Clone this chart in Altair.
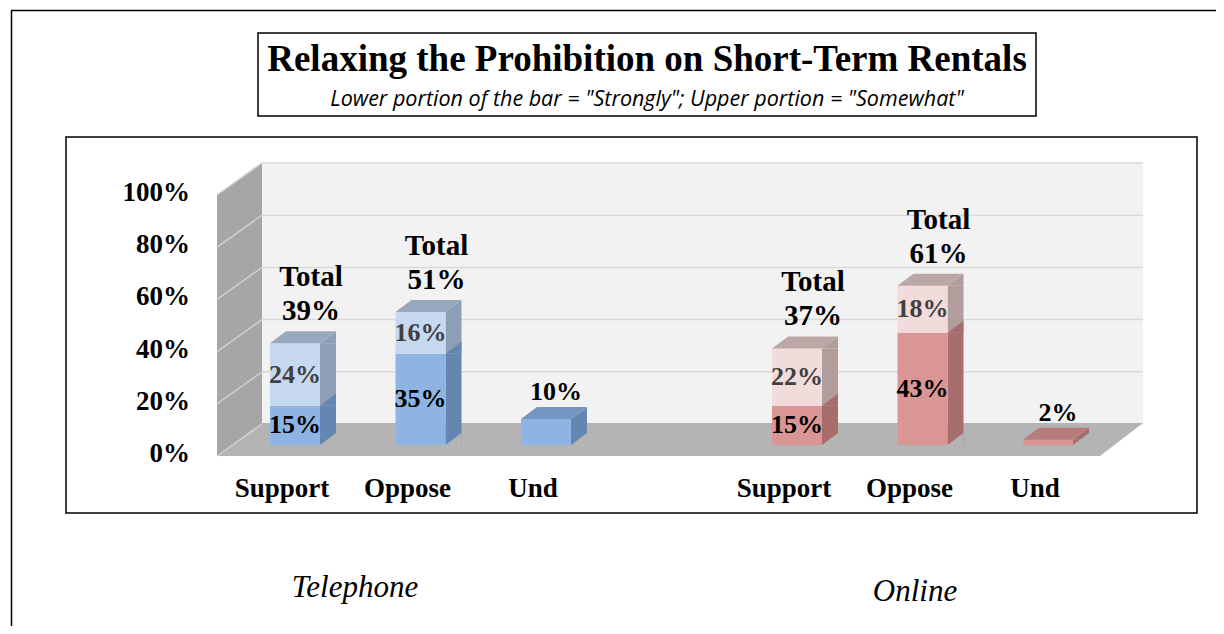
import altair as alt
import pandas as pd

# ---------------- data ----------------
modes = ["Telephone", "Telephone", "Telephone", "Online", "Online", "Online"]
answers = ["Support", "Oppose", "Und", "Support", "Oppose", "Und"]
strongly = [15, 35, 10, 15, 43, 2]
somewhat = [24, 16, 0, 22, 18, 0]
totals = [39, 51, 10, 37, 61, 2]
y_ticks = [0, 20, 40, 60, 80, 100]
y_tick_labels = ["0%", "20%", "40%", "60%", "80%", "100%"]
title_text = "Relaxing the Prohibition on Short-Term Rentals"
subtitle_text = 'Lower portion of the bar = "Strongly"; Upper portion = "Somewhat"'
group_labels = ["Telephone", "Online"]

# ---------------- styles ----------------
PALETTE = {
    ("Telephone", "Strongly"): dict(front="#8DB4E2", side="#6487B2", top="#7596C0", text="#000000"),
    ("Telephone", "Somewhat"): dict(front="#C6D9F1", side="#8D9FB7", top="#97A8BF", text="#404040"),
    ("Online", "Strongly"): dict(front="#D99694", side="#A66D6C", top="#B87C7B", text="#000000"),
    ("Online", "Somewhat"): dict(front="#F2DCDB", side="#B29D9D", top="#BCA7A7", text="#404040"),
}
FLOOR = "#B4B4B4"
WALL = "#A6A6A6"
BACK = "#F2F2F2"
GRID = "#D9D9D9"
SERIF = "Liberation Serif"

slots = ["Telephone|Support", "Telephone|Oppose", "Telephone|Und", "gap",
         "Online|Support", "Online|Oppose", "Online|Und"]

# ---------------- tables ----------------
seg_rows = []
bar_rows = []
for m, a, s, w, tot in zip(modes, answers, strongly, somewhat, totals):
    cat = f"{m}|{a}"
    pieces = [("Strongly", 0, s)]
    if w > 0:
        pieces.append(("Somewhat", s, s + w))
    for k, (lvl, b, t) in enumerate(pieces):
        p = PALETTE[(m, lvl)]
        seg_rows.append(dict(cat=cat, mode=m, answer=a, level=lvl, b=b, t=t, mid=(b + t) / 2,
                             front=p["front"], side=p["side"], top=p["top"], tcol=p["text"],
                             label=f"{t - b}%", is_top=(k == len(pieces) - 1),
                             inside=(a != "Und")))
    bar_rows.append(dict(cat=cat, mode=m, answer=a, total=tot,
                         tlabel=(f"Total\n{tot}%" if a != "Und" else ""),
                         ulabel=(f"{tot}%" if a == "Und" else "")))
seg = pd.DataFrame(seg_rows)
bars = pd.DataFrame(bar_rows)
ticks = pd.DataFrame({"v": y_ticks, "lab": y_tick_labels})

X = alt.X("cat:N", scale=alt.Scale(domain=slots, range=[166.25, 1044.75],
                                   paddingInner=0, paddingOuter=0), axis=None)
YS = alt.Scale(domain=[0, 100], range=[308, 47], nice=False, zero=False)


def Y(f):
    return alt.Y(f, scale=YS, axis=None)


DX, DY, W = 16, 12, 50
tri = f"M{W/2},0L{W/2+DX},{-DY}L{W/2+DX},0Z"
topface = f"M{-W/2},0L{W/2},0L{W/2+DX},{-DY}L{-W/2+DX},{-DY}Z"
wall_path = "M0,0L0,-261L45,-293L45,-33Z"
floor_path = "M0,0L883,0L926,-33L45,-33Z"

one = pd.DataFrame({"k": [0]})

# ---------------- decoration ----------------
back_wall = alt.Chart(one).mark_rect(color=BACK, yOffset=-21, y2Offset=-21).encode(
    x=alt.value(196), x2=alt.value(1077),
    y=alt.Y(datum=100, scale=YS, axis=None), y2=alt.datum(0))
grid = alt.Chart(ticks).mark_rule(color=GRID, strokeWidth=1.5, yOffset=-21).encode(
    x=alt.value(196), x2=alt.value(1077), y=Y("v:Q"))
floor = alt.Chart(one).mark_point(shape=floor_path, size=4, filled=True, opacity=1,
                                  strokeWidth=0, color=FLOOR, yOffset=11).encode(
    x=alt.value(151), y=alt.Y(datum=0, scale=YS, axis=None))
wall = alt.Chart(one).mark_point(shape=wall_path, size=4, filled=True, opacity=1,
                                 strokeWidth=0, color=WALL, yOffset=11).encode(
    x=alt.value(151), y=alt.Y(datum=0, scale=YS, axis=None))
wall_lines = alt.Chart(ticks).mark_rule(color="#D0D0D0", strokeWidth=1.5,
                                        yOffset=11, y2Offset=-21).encode(
    x=alt.value(151), x2=alt.value(196), y=Y("v:Q"), y2="v:Q")

ylabels = alt.Chart(ticks).mark_text(align="right", baseline="middle", dy=9,
                                     font=SERIF, fontSize=27, fontWeight="bold",
                                     color="#000000").encode(
    x=alt.value(124), y=Y("v:Q"), text="lab:N")

# ---------------- bars ----------------
side = alt.Chart(seg).mark_bar(size=DX, xOffset=W / 2 + DX / 2).encode(
    x=X, y=Y("t:Q"), y2="b:Q", color=alt.Color("side:N", scale=None))
front = alt.Chart(seg).mark_bar(size=W).encode(
    x=X, y=Y("t:Q"), y2="b:Q", color=alt.Color("front:N", scale=None))
tops_tri = alt.Chart(seg).mark_point(shape=tri, size=4, filled=True, opacity=1,
                                     strokeWidth=0).encode(
    x=X, y=Y("t:Q"), color=alt.Color("side:N", scale=None))
tops = alt.Chart(seg).transform_filter("datum.is_top").mark_point(
    shape=topface, size=4, filled=True, opacity=1, strokeWidth=0).encode(
    x=X, y=Y("t:Q"), color=alt.Color("top:N", scale=None))
floor_tri = alt.Chart(seg).transform_filter("datum.b == 0").mark_point(
    shape=tri, size=4, filled=True, opacity=1, strokeWidth=0, color=FLOOR).encode(
    x=X, y=Y("b:Q"))

# ---------------- labels ----------------
inside = alt.Chart(seg).transform_filter("datum.inside").mark_text(
    font=SERIF, fontSize=26, fontWeight="bold", baseline="middle").encode(
    x=X, y=Y("mid:Q"), text="label:N", color=alt.Color("tcol:N", scale=None))
total_lab = alt.Chart(bars).transform_filter("datum.answer != 'Und'").mark_text(
    font=SERIF, fontSize=29, fontWeight="bold", baseline="middle", lineBreak="\n",
    lineHeight=34, dx=16, dy=-66, color="#000000").encode(
    x=X, y=Y("total:Q"), text="tlabel:N")
und_lab = alt.Chart(bars).transform_filter("datum.answer == 'Und'").mark_text(
    font=SERIF, fontSize=26, fontWeight="bold", baseline="middle", dx=10, dy=-27,
    color="#000000").encode(
    x=X, y=Y("total:Q"), text="ulabel:N")
xlabels = alt.Chart(bars).mark_text(font=SERIF, fontSize=27, fontWeight="bold",
                                    baseline="middle", dx=-13, color="#000000").encode(
    x=X, y=alt.value(352), text="answer:N")

foot1 = alt.Chart(pd.DataFrame({"g": [group_labels[0]]})).mark_text(
    font=SERIF, fontSize=31, fontStyle="italic", baseline="middle", color="#000000").encode(
    x=alt.value(289), y=alt.value(451), text="g:N")
foot2 = alt.Chart(pd.DataFrame({"g": [group_labels[1]]})).mark_text(
    font=SERIF, fontSize=31, fontStyle="italic", baseline="middle", color="#000000").encode(
    x=alt.value(849), y=alt.value(455), text="g:N")

# ---------------- title box & frame ----------------
tbox = alt.Chart(one).mark_rect(fill="white", stroke="black", strokeWidth=1.5).encode(
    x=alt.value(192), x2=alt.value(970), y=alt.value(-104), y2=alt.value(-21))
ttl = alt.Chart(pd.DataFrame({"t": [title_text]})).mark_text(
    font=SERIF, fontSize=37, fontWeight="bold", baseline="middle", color="#000000").encode(
    x=alt.value(581), y=alt.value(-77), text="t:N")
sub = alt.Chart(pd.DataFrame({"t": [subtitle_text]})).mark_text(
    font="Open Sans", fontSize=21.5, fontStyle="italic", baseline="middle", color="#000000").encode(
    x=alt.value(581), y=alt.value(-37), text="t:N")
frame_l = alt.Chart(one).mark_rule(color="black", strokeWidth=1.5).encode(
    x=alt.value(-54.5), y=alt.value(-126.5), y2=alt.value(489))
frame_t = alt.Chart(one).mark_rule(color="black", strokeWidth=1.5).encode(
    x=alt.value(-55), x2=alt.value(1150), y=alt.value(-126.5))

chart = alt.layer(
    frame_l, frame_t, tbox, ttl, sub,
    back_wall, grid, floor, wall, wall_lines, ylabels,
    side, front, tops_tri, tops, floor_tri,
    inside, total_lab, und_lab, xlabels, foot1, foot2,
).properties(
    width=1131, height=376,
    padding={"left": 58, "top": 129, "right": 19, "bottom": 113},
    autosize=alt.AutoSizeParams(type="none"),
    background="white",
).configure_view(stroke="black", strokeWidth=1.5, fill="white")

chart.save("out.html", embed_options={"renderer": "svg", "actions": False})
